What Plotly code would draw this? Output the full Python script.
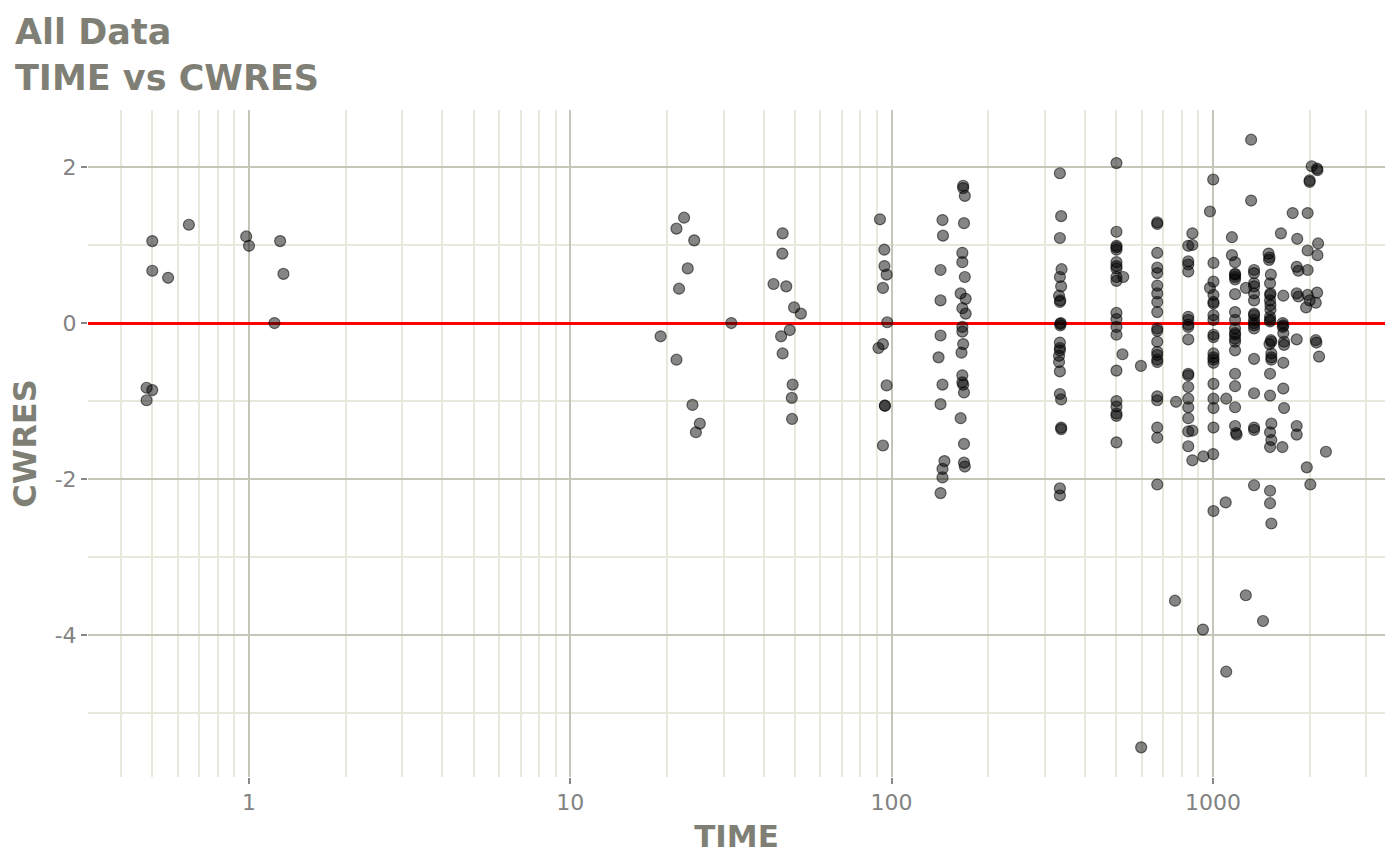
import plotly.graph_objects as go

# TIME vs CWRES (grouped by time cluster)
time_values = [
    # < 2 h
    0.50, 0.50, 0.48, 0.50, 0.48, 0.56, 0.65, 0.98, 1.00, 1.25, 1.28, 1.20,
    # ~ 24 h
    22.6, 21.4, 24.3, 23.2, 21.8, 31.7, 19.1, 21.4, 24.0, 25.3, 24.6,
    # ~ 48 h
    45.8, 45.7, 42.9, 47.0, 49.7, 52.2, 48.2, 45.3, 45.8, 49.2, 48.9, 49.0,
    # ~ 95 h
    92.0, 94.9, 95.0, 96.5, 94.0, 96.9, 94.0, 91.0, 96.5, 95.3, 95.3, 94.0,
    # ~ 150 h
    167, 167, 169, 144, 144.5, 168, 166, 166, 142, 169, 164, 170, 142, 166, 170,
    166, 166, 142, 167, 165, 140, 166, 166, 167, 168, 144, 142, 164, 168, 168,
    169, 146, 144, 144, 142,
    # ~ 335 h
    334, 337, 334, 338, 334, 337, 332, 335, 334, 336, 335, 335, 334, 334, 334,
    332, 332, 334, 334, 337, 337, 337, 334, 334,
    # ~ 500 h
    501, 501, 501, 501, 501, 501, 501, 501, 501, 501, 501, 501, 501, 501, 501,
    501, 501, 501, 501, 501, 526, 523, 597, 598,
    # ~ 670 h
    671, 671, 671, 671, 671, 671, 671, 671, 671, 671, 671, 671, 671, 671, 671,
    671, 671, 671, 671, 671, 671,
    # ~ 840 h
    863, 838, 863, 838, 838, 838, 838, 838, 838, 838, 838, 838, 838, 838, 838,
    838, 838, 838, 863, 838, 863, 768, 934, 762, 931,
    # ~ 1000 h
    1002, 979, 1004, 1004, 979, 1004, 1004, 1004, 1004, 1004, 1004, 1004, 1004,
    1004, 1004, 1004, 1004, 1004, 1004, 1004, 1002, 1004, 1096, 1100, 1100,
    # ~ 1170 h
    1146, 1146, 1172, 1172, 1172, 1172, 1172, 1172, 1172, 1172, 1172, 1172, 1172,
    1172, 1172, 1172, 1172, 1172, 1172, 1172, 1180, 1185, 1267, 1315, 1315, 1266,
    # ~ 1340 h
    1343, 1343, 1343, 1343, 1343, 1343, 1343, 1343, 1343, 1343, 1343, 1343, 1343,
    1343, 1343, 1343, 1343,
    # ~ 1500 h
    1490, 1500, 1495, 1515, 1506, 1510, 1506, 1506, 1510, 1510, 1506, 1506, 1506,
    1515, 1520, 1500, 1520, 1520, 1520, 1506, 1506, 1520, 1506, 1520, 1506, 1506,
    1506, 1520, 1432,
    # ~ 1650 h
    1628, 1656, 1650, 1650, 1656, 1656, 1665, 1665, 1656, 1656, 1665, 1645,
    # ~ 1820 h
    1771, 1830, 1823, 1845, 1823, 1845, 1823, 1823, 1823,
    # ~ 2000 h
    2030, 2110, 2115, 2000, 2000, 1972, 1972, 2125, 2115, 1972, 1972, 2000, 2110,
    2090, 1950, 2090, 2100, 2140, 2248, 1960, 2010,
]

cwres_values = [
    1.05, 0.67, -0.83, -0.86, -0.99, 0.58, 1.26, 1.11, 0.99, 1.05, 0.63, 0.00,
    1.35, 1.21, 1.06, 0.70, 0.44, 0.00, -0.17, -0.47, -1.05, -1.29, -1.40,
    1.15, 0.89, 0.50, 0.47, 0.20, 0.12, -0.09, -0.17, -0.39, -0.79, -0.96, -1.23,
    1.33, 0.94, 0.73, 0.62, 0.45, 0.01, -0.27, -0.32, -0.80, -1.06, -1.06, -1.57,
    1.76, 1.73, 1.63, 1.32, 1.12, 1.28, 0.90, 0.78, 0.68, 0.59, 0.38, 0.31, 0.29,
    0.19, 0.12, -0.05, -0.11, -0.16, -0.27, -0.38, -0.44, -0.67, -0.76, -0.79,
    -0.89, -0.79, -1.04, -1.22, -1.55, -1.79, -1.84, -1.77, -1.87, -1.98, -2.18,
    1.92, 1.37, 1.09, 0.69, 0.59, 0.47, 0.35, 0.29, 0.27, 0.00, -0.01, -0.03,
    -0.25, -0.32, -0.35, -0.42, -0.50, -0.62, -0.91, -0.98, -1.34, -1.36, -2.12,
    -2.21,
    2.05, 1.17, 0.99, 0.97, 0.94, 0.78, 0.73, 0.70, 0.59, 0.54, 0.13, 0.05, -0.05,
    -0.15, -0.61, -1.00, -1.07, -1.16, -1.19, -1.53, 0.59, -0.40, -0.55, -5.44,
    1.29, 1.27, 0.90, 0.71, 0.64, 0.48, 0.38, 0.27, 0.14, -0.07, -0.10, -0.24,
    -0.37, -0.41, -0.47, -0.50, -0.94, -0.99, -1.34, -1.47, -2.07,
    1.15, 0.99, 1.00, 0.79, 0.75, 0.66, 0.08, 0.04, -0.02, -0.05, -0.21, -0.65,
    -0.67, -0.82, -0.97, -1.08, -1.22, -1.39, -1.38, -1.58, -1.76, -1.01, -1.71,
    -3.56, -3.93,
    1.84, 1.43, 0.77, 0.53, 0.45, 0.36, 0.27, 0.25, 0.10, 0.04, -0.15, -0.18,
    -0.39, -0.44, -0.47, -0.51, -0.78, -0.97, -1.09, -1.34, -1.68, -2.41, -2.30,
    -0.97, -4.47,
    1.10, 0.87, 0.78, 0.63, 0.62, 0.59, 0.56, 0.37, 0.14, 0.04, -0.07, -0.13,
    -0.15, -0.20, -0.24, -0.35, -0.65, -0.81, -1.08, -1.32, -1.41, -1.43, 0.45,
    2.35, 1.57, -3.49,
    0.68, 0.64, 0.51, 0.47, 0.38, 0.29, 0.12, 0.10, 0.04, 0.00, -0.03, -0.07,
    -0.46, -0.90, -1.34, -1.37, -2.08,
    0.89, 0.84, 0.81, 0.62, 0.51, 0.38, 0.36, 0.29, 0.23, 0.17, 0.08, 0.04, 0.02,
    -0.22, -0.24, -0.27, -0.39, -0.44, -0.47, -0.65, -0.93, -1.29, -1.40, -1.50,
    -1.59, -2.15, -2.31, -2.57, -3.82,
    1.15, 0.35, 0.00, -0.05, -0.03, -0.13, -0.24, -0.28, -0.51, -0.84, -1.09,
    -1.59,
    1.41, 1.08, 0.72, 0.67, 0.38, 0.34, -0.21, -1.32, -1.43,
    2.01, 1.98, 1.96, 1.83, 1.81, 1.41, 0.93, 1.02, 0.87, 0.68, 0.36, 0.29, 0.39,
    0.26, 0.20, -0.22, -0.25, -0.43, -1.65, -1.85, -2.07,
]

x_ticks = [1, 10, 100, 1000]
x_tick_labels = ['1', '10', '100', '1000']
x_minor = [0.4, 0.5, 0.6, 0.7, 0.8, 0.9,
           2, 3, 4, 5, 6, 7, 8, 9,
           20, 30, 40, 50, 60, 70, 80, 90,
           200, 300, 400, 500, 600, 700, 800, 900,
           2000, 3000]
y_ticks = [-4, -2, 0, 2]
y_tick_labels = ['-4', '-2', '0', '2']
y_minor = [-5, -3, -1, 1]

title_grey = '#7f7f76'
text_grey = '#828282'
major_grid = '#c5c5b8'
minor_grid = '#e8e8dc'

fig = go.Figure()

fig.add_trace(go.Scatter(
    x=time_values, y=cwres_values, mode='markers',
    marker=dict(size=11, color='rgba(0,0,0,0.48)',
                line=dict(color='rgba(0,0,0,0.55)', width=1.2)),
    showlegend=False, hoverinfo='x+y'
))

fig.update_layout(
    width=1400, height=865,
    paper_bgcolor='white', plot_bgcolor='white',
    margin=dict(l=88, r=15, t=110, b=88),
    font=dict(family='DejaVu Sans', color=text_grey),
)

# two-line title, placed as an annotation so both lines stay on the page
fig.add_annotation(
    text='<b>All Data</b><br><b>TIME vs CWRES</b>',
    xref='paper', yref='paper',
    x=-75 / 1297, y=1 + 100 / 667,
    xanchor='left', yanchor='top', align='left', showarrow=False,
    font=dict(family='DejaVu Sans', size=35, color=title_grey),
)

fig.update_xaxes(
    type='log', range=[-0.5011, 3.5356],
    tickmode='array', tickvals=x_ticks, ticktext=x_tick_labels,
    tickfont=dict(size=22, color=text_grey),
    ticks='outside', ticklen=6, tickwidth=2, tickcolor='#888888',
    showgrid=True, gridcolor=major_grid, gridwidth=2,
    minor=dict(tickmode='array', tickvals=x_minor, showgrid=True,
               gridcolor=minor_grid, gridwidth=2, ticks=''),
    showline=False, zeroline=False,
    title=dict(text='<b>TIME</b>', standoff=10,
               font=dict(size=31, color=title_grey)),
)

# the red reference line at CWRES = 0 is the y zero line
fig.update_yaxes(
    range=[-5.82, 2.731],
    tickmode='array', tickvals=y_ticks, ticktext=y_tick_labels,
    tickfont=dict(size=22, color=text_grey),
    ticks='outside', ticklen=6, tickwidth=2, tickcolor='#888888',
    showgrid=True, gridcolor=major_grid, gridwidth=2,
    minor=dict(tickmode='array', tickvals=y_minor, showgrid=True,
               gridcolor=minor_grid, gridwidth=2, ticks=''),
    showline=False,
    zeroline=True, zerolinecolor='#ff0000', zerolinewidth=2.5,
    title=dict(text='<b>CWRES</b>', standoff=8,
               font=dict(size=32, color=title_grey)),
)

fig.write_html('out.html', config={'displayModeBar': False},
               post_script="document.body.style.margin = '0';")
